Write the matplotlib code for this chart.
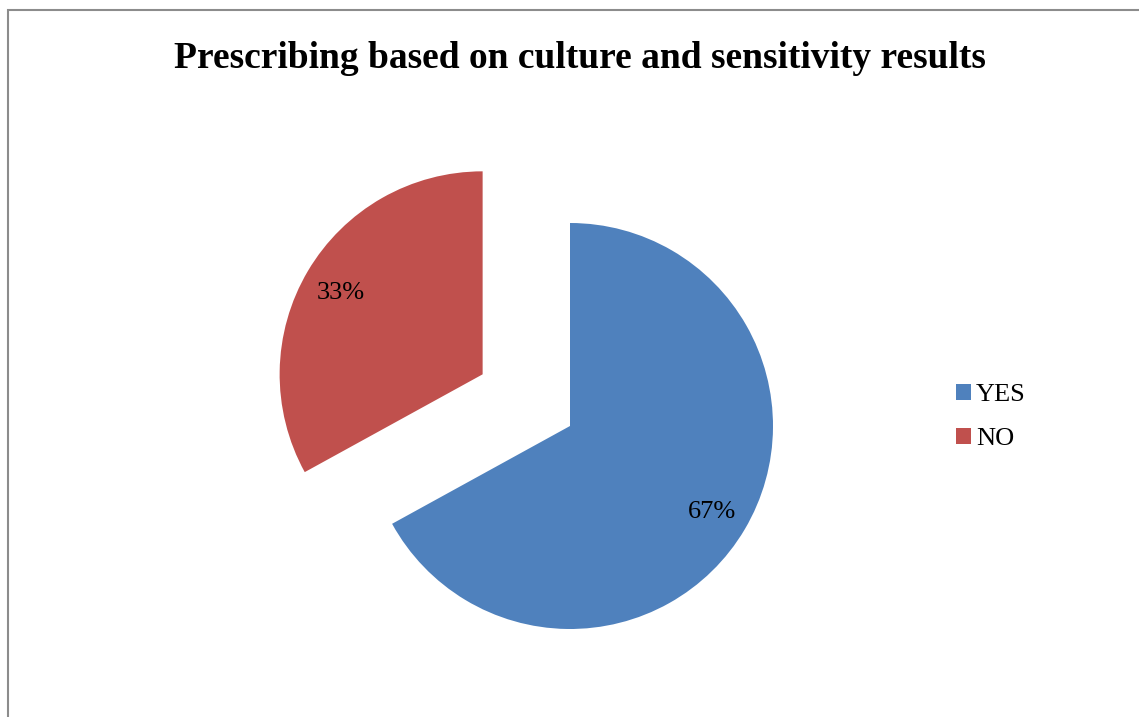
import matplotlib
matplotlib.use("Agg")
import matplotlib.pyplot as plt
from matplotlib.patches import Rectangle

# data
labels = ['YES', 'NO']
values = [67, 33]
colors = ['#4F81BD', '#C0504D']
explode = [0, 0.5]

plt.rcParams['font.family'] = ['Liberation Serif', 'DejaVu Serif']

W, H = 1139, 717
fig = plt.figure(figsize=(W / 100, H / 100), dpi=100)

# outer border of the chart area
fig.patches.append(Rectangle((8 / W, -0.1), 1.2, 707 / H + 0.1, transform=fig.transFigure,
                             fill=False, edgecolor='#8c8c8c', linewidth=1.5))

# title
fig.text(580 / W, 1 - 58 / H, 'Prescribing based on culture and sensitivity results',
         ha='center', va='center', fontsize=27, fontweight='bold')

# pie axes: radius 1 unit = 203 px
R = 203
cx, cy = 570, H - 426
half = 1.5 * R
ax = fig.add_axes([(cx - half) / W, (cy - half) / H, 2 * half / W, 2 * half / H])
wedges, texts, autotexts = ax.pie(values, colors=colors, explode=explode, startangle=90,
                                  counterclock=False, autopct='%d%%', pctdistance=0.81,
                                  radius=1,
                                  textprops={'fontsize': 19, 'color': 'black',
                                             'va': 'center_baseline'})
ax.set_xlim(-1.5, 1.5)
ax.set_ylim(-1.5, 1.5)
ax.set_aspect('equal')
ax.axis('off')

# legend
fig.legend(wedges, labels, loc='center left', bbox_to_anchor=(956 / W, 1 - 417 / H),
           frameon=False, fontsize=19, handlelength=0.55, handleheight=0.55,
           handletextpad=0.2, labelspacing=0.83, borderpad=0, borderaxespad=0)

fig.savefig('out.png', dpi=100)
